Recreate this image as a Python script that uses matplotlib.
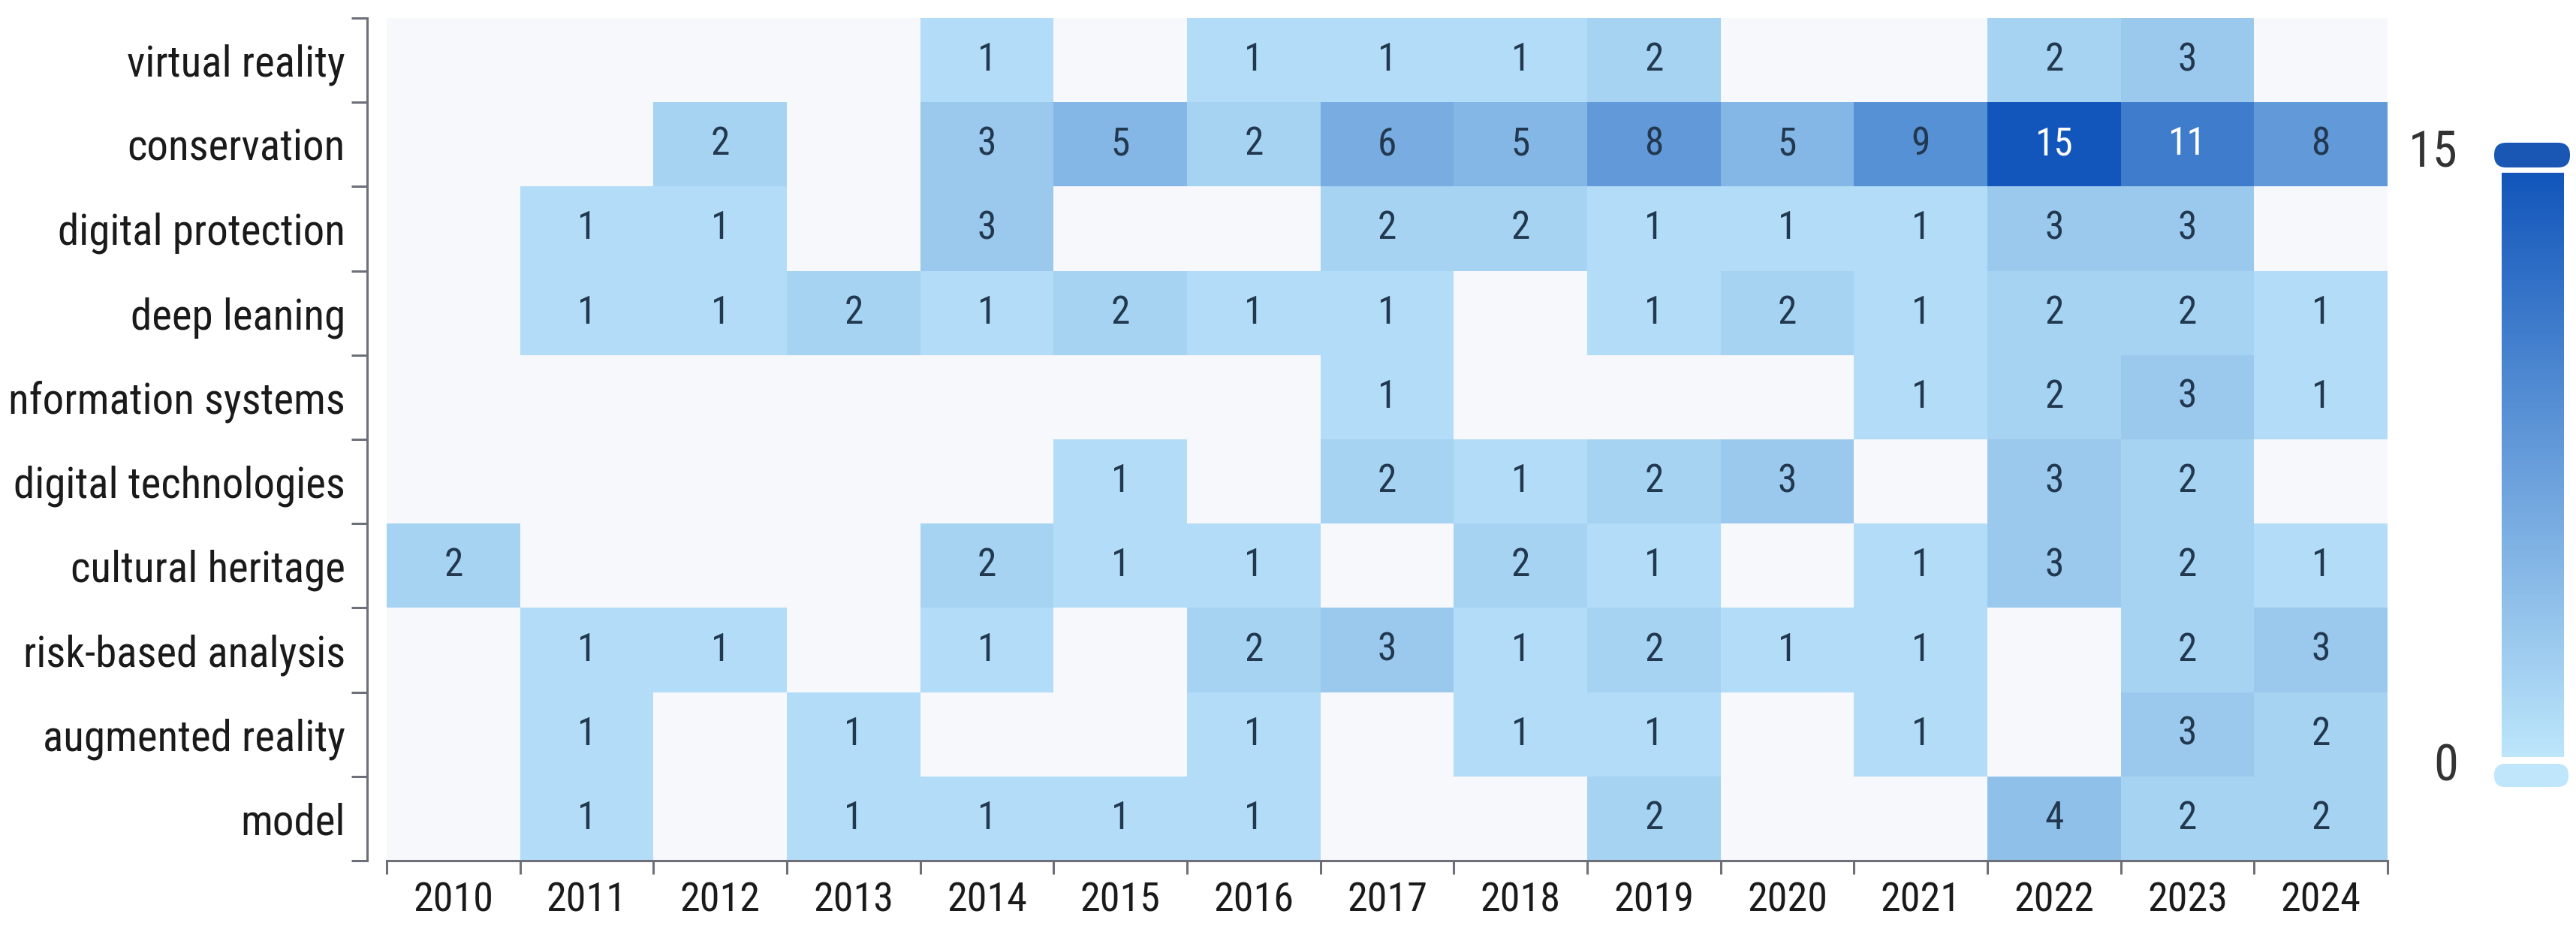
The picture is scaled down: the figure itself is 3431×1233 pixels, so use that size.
import numpy as np
import matplotlib
matplotlib.use("Agg")
import matplotlib.pyplot as plt
from matplotlib.colors import LinearSegmentedColormap, Normalize
from matplotlib.patches import FancyBboxPatch
from matplotlib.transforms import IdentityTransform
from matplotlib.ticker import FixedLocator, NullFormatter, FixedFormatter

# ---------------- data ----------------
years = ["2010", "2011", "2012", "2013", "2014", "2015", "2016", "2017",
         "2018", "2019", "2020", "2021", "2022", "2023", "2024"]
keywords = ["virtual reality", "conservation", "digital protection", "deep leaning",
            "nformation systems", "digital technologies", "cultural heritage",
            "risk-based analysis", "augmented reality", "model"]

virtual_reality      = [0, 0, 0, 0, 1, 0, 1, 1, 1, 2, 0, 0, 2, 3, 0]
conservation         = [0, 0, 2, 0, 3, 5, 2, 6, 5, 8, 5, 9, 15, 11, 8]
digital_protection   = [0, 1, 1, 0, 3, 0, 0, 2, 2, 1, 1, 1, 3, 3, 0]
deep_leaning         = [0, 1, 1, 2, 1, 2, 1, 1, 0, 1, 2, 1, 2, 2, 1]
information_systems  = [0, 0, 0, 0, 0, 0, 0, 1, 0, 0, 0, 1, 2, 3, 1]
digital_technologies = [0, 0, 0, 0, 0, 1, 0, 2, 1, 2, 3, 0, 3, 2, 0]
cultural_heritage    = [2, 0, 0, 0, 2, 1, 1, 0, 2, 1, 0, 1, 3, 2, 1]
risk_based_analysis  = [0, 1, 1, 0, 1, 0, 2, 3, 1, 2, 1, 1, 0, 2, 3]
augmented_reality    = [0, 1, 0, 1, 0, 0, 1, 0, 1, 1, 0, 1, 0, 3, 2]
model                = [0, 1, 0, 1, 1, 1, 1, 0, 0, 2, 0, 0, 4, 2, 2]

vmin, vmax = 0, 15

rows = [virtual_reality, conservation, digital_protection, deep_leaning,
        information_systems, digital_technologies, cultural_heritage,
        risk_based_analysis, augmented_reality, model]
Z = np.array(rows, dtype=float)

# ---------------- style ----------------
W, H, DPI = 3431, 1233, 100
FONT = ["Roboto Condensed", "Liberation Sans", "DejaVu Sans"]
plt.rcParams["font.family"] = FONT
axis_col = "#6E7079"

cmap = LinearSegmentedColormap.from_list("vm", ["#bde6fb", "#1256bb"])
cmap.set_bad("#f7f8fb")
norm = Normalize(vmin=vmin, vmax=vmax)

fig = plt.figure(figsize=(W / DPI, H / DPI), dpi=DPI)
fig.patch.set_facecolor("white")

# heatmap axes (pixel geometry from the reference)
L, R, T, B = 515, 3180, 24, 1146
ax = fig.add_axes([L / W, 1 - B / H, (R - L) / W, (B - T) / H])

nx, ny = len(years), len(keywords)
Zm = np.ma.masked_where(Z == 0, Z)
ax.pcolormesh(np.arange(nx + 1), np.arange(ny + 1), Zm, cmap=cmap, norm=norm,
              shading="flat", edgecolors="none", antialiased=False)
ax.set_xlim(0, nx)
ax.set_ylim(ny, 0)

for i in range(ny):
    for j in range(nx):
        v = Z[i, j]
        if v > 0:
            ax.text(j + 0.5, i + 0.5, f"{int(v)}", ha="center", va="center",
                    fontsize=37, color="white" if v >= 10 else "#22384f",
                    family=FONT)

# spines
for s in ("top", "right"):
    ax.spines[s].set_visible(False)
ax.spines["left"].set_position(("outward", 18.7))
for s in ("left", "bottom"):
    ax.spines[s].set_color(axis_col)
    ax.spines[s].set_linewidth(2.2)

# x ticks: boundaries (major, no labels) + centres (minor, labels)
ax.xaxis.set_major_locator(FixedLocator(np.arange(nx + 1)))
ax.xaxis.set_major_formatter(NullFormatter())
ax.xaxis.set_minor_locator(FixedLocator(np.arange(nx) + 0.5))
ax.xaxis.set_minor_formatter(FixedFormatter(years))
ax.tick_params(axis="x", which="major", direction="out", length=13, width=2.2,
               color=axis_col)
ax.tick_params(axis="x", which="minor", length=0, pad=20, labelsize=39,
               labelcolor="#1a1a1a")

ax.yaxis.set_major_locator(FixedLocator(np.arange(ny + 1)))
ax.yaxis.set_major_formatter(NullFormatter())
ax.yaxis.set_minor_locator(FixedLocator(np.arange(ny) + 0.5))
ax.yaxis.set_minor_formatter(FixedFormatter(keywords))
ax.tick_params(axis="y", which="major", direction="out", length=15, width=2.2,
               color=axis_col)
ax.tick_params(axis="y", which="minor", length=0, pad=21, labelsize=41,
               labelcolor="#1a1a1a")

# ---------------- visual map (continuous) ----------------
bx0, bx1, by0, by1 = 3332, 3415, 230, 1008
cax = fig.add_axes([bx0 / W, 1 - by1 / H, (bx1 - bx0) / W, (by1 - by0) / H])
grad = np.linspace(vmin, vmax, 256).reshape(-1, 1)
cax.imshow(grad, cmap=cmap, norm=norm, aspect="auto", origin="lower",
           extent=(0, 1, vmin, vmax))
cax.set_axis_off()

tr = IdentityTransform()
fig.patches.append(FancyBboxPatch((3322, H - 223), 101, 33,
                                  boxstyle="round,pad=0,rounding_size=16",
                                  transform=tr, facecolor="#1a56b4",
                                  edgecolor="none", figure=fig))
fig.patches.append(FancyBboxPatch((3322, H - 1048), 99, 31,
                                  boxstyle="round,pad=0,rounding_size=15",
                                  transform=tr, facecolor="#bfe6fb",
                                  edgecolor="none", figure=fig))

fig.text(3274 / W, 1 - 203 / H, f"{vmax}", ha="right", va="center",
         fontsize=48, color="#333333", family=FONT)
fig.text(3274 / W, 1 - 1022 / H, f"{vmin}", ha="right", va="center",
         fontsize=48, color="#333333", family=FONT)

fig.savefig("out.png", dpi=DPI, facecolor="white")
